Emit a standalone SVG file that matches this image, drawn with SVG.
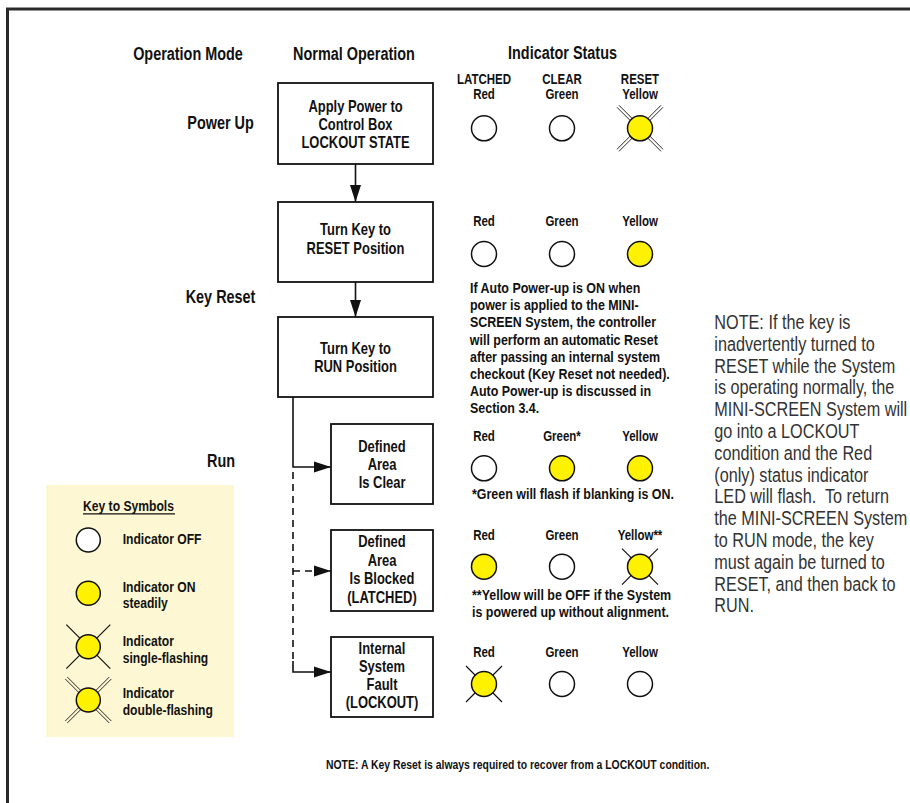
<svg xmlns="http://www.w3.org/2000/svg" width="910" height="803" viewBox="0 0 910 803">
<defs>
<style>
text{font-family:"Liberation Sans",Arial,sans-serif;fill:#111;font-weight:bold;transform-box:fill-box;transform-origin:0% 50%;transform:scaleX(0.82)}
.h{font-size:17.6px}
.m{text-anchor:middle;transform-origin:50% 50%}
.b{font-size:15.8px;text-anchor:middle;transform-origin:50% 50%}
.l{font-size:14px;text-anchor:middle;transform-origin:50% 50%}
.p{font-size:15.2px}
.k{font-size:14.8px}
.n{font-size:19.8px;font-weight:normal;fill:#333}
.f{font-size:12.7px}
.box{fill:#fff;stroke:#111;stroke-width:1.8}
.off{fill:#fff;stroke:#111;stroke-width:1.5}
.on{fill:#FFF200;stroke:#111;stroke-width:1.5}
.ray{stroke:#111;stroke-width:1.2;fill:none}
.ray2{stroke:#111;stroke-width:0.9;fill:none}
.con{stroke:#111;stroke-width:1.6;fill:none}
.dash{stroke-dasharray:7 5}
</style>
<marker id="ah" markerUnits="userSpaceOnUse" markerWidth="17" markerHeight="12" refX="17" refY="6" orient="auto">
<path d="M0,0.5 L17,6 L0,11.5 z" fill="#111"/>
</marker>
<g id="s1"><path class="ray" d="M-18,-18 L18,18 M18,-18 L-18,18"/></g>
<g id="s2"><path class="ray" d="M-22,-22 L22,22 M22,-22 L-22,22"/></g>
<g id="d2"><path class="ray2" d="M-21,-23 L23,21 M-23,-21 L21,23 M21,-23 L-23,21 M23,-21 L-21,23"/></g>
</defs>
<rect width="910" height="803" fill="#fff"/>
<path d="M7.5,803 V9 H910" fill="none" stroke="#2a2a2a" stroke-width="3"/>

<g id="headers">
<text class="h m" x="188" y="60">Operation Mode</text>
<text class="h m" x="354" y="60">Normal Operation</text>
<text class="h m" x="562.5" y="59">Indicator Status</text>
</g>
<g id="modes">
<text class="h m" x="220.5" y="129">Power Up</text>
<text class="h m" x="220.5" y="303">Key Reset</text>
<text class="h m" x="221" y="467.5">Run</text>
</g>

<g id="connectors">
<line class="con" x1="355.5" y1="164" x2="355.5" y2="202" marker-end="url(#ah)"/>
<line class="con" x1="355.5" y1="282" x2="355.5" y2="317" marker-end="url(#ah)"/>
<polyline class="con" points="293,397 293,467 331,467" marker-end="url(#ah)"/>
<line class="con dash" x1="293" y1="472" x2="293" y2="662"/>
<polyline class="con" points="293,661 293,672 331,672" marker-end="url(#ah)"/>
<line class="con dash" x1="293" y1="571" x2="331" y2="571" marker-end="url(#ah)"/>
</g>

<g id="n1"><rect class="box" x="278" y="83" width="155" height="81"/>
<text class="b" x="355.5" y="112.5">Apply Power to</text>
<text class="b" x="355.5" y="130.5">Control Box</text>
<text class="b" x="355.5" y="148.5">LOCKOUT STATE</text></g>
<g id="n2"><rect class="box" x="278" y="202" width="155" height="80"/>
<text class="b" x="355.5" y="235">Turn Key to</text>
<text class="b" x="355.5" y="254">RESET Position</text></g>
<g id="n3"><rect class="box" x="278" y="317" width="155" height="80"/>
<text class="b" x="355.5" y="354">Turn Key to</text>
<text class="b" x="355.5" y="372">RUN Position</text></g>
<g id="n4"><rect class="box" x="331" y="424" width="102" height="80"/>
<text class="b" x="382" y="452">Defined</text>
<text class="b" x="382" y="470">Area</text>
<text class="b" x="382" y="488">Is Clear</text></g>
<g id="n5"><rect class="box" x="331" y="530" width="102" height="81"/>
<text class="b" x="382" y="547.5">Defined</text>
<text class="b" x="382" y="566">Area</text>
<text class="b" x="382" y="584.5">Is Blocked</text>
<text class="b" x="382" y="603">(LATCHED)</text></g>
<g id="n6"><rect class="box" x="331" y="637" width="102" height="80"/>
<text class="b" x="382" y="654">Internal</text>
<text class="b" x="382" y="672">System</text>
<text class="b" x="382" y="690.5">Fault</text>
<text class="b" x="382" y="708">(LOCKOUT)</text></g>

<g id="row1">
<text class="l" x="484" y="84">LATCHED</text><text class="l" x="484" y="99">Red</text>
<text class="l" x="562" y="84">CLEAR</text><text class="l" x="562" y="99">Green</text>
<text class="l" x="640" y="84">RESET</text><text class="l" x="640" y="99">Yellow</text>
<circle class="off" cx="484" cy="128.3" r="12.5"/>
<circle class="off" cx="562" cy="128.3" r="12.5"/>
<use href="#d2" x="640" y="128.3"/>
<circle class="on" cx="640" cy="128.3" r="12.5"/>
</g>
<g id="row2">
<text class="l" x="484" y="225.7">Red</text>
<text class="l" x="562" y="225.7">Green</text>
<text class="l" x="640" y="225.7">Yellow</text>
<circle class="off" cx="484" cy="254" r="12.5"/>
<circle class="off" cx="562" cy="254" r="12.5"/>
<circle class="on" cx="640" cy="254" r="12.5"/>
</g>
<g id="autonote">
<text class="p" x="470" y="293">If Auto Power-up is ON when</text>
<text class="p" x="470" y="310.2">power is applied to the MINI-</text>
<text class="p" x="470" y="327.4">SCREEN System, the controller</text>
<text class="p" x="470" y="344.6">will perform an automatic Reset</text>
<text class="p" x="470" y="361.8">after passing an internal system</text>
<text class="p" x="470" y="379">checkout (Key Reset not needed).</text>
<text class="p" x="470" y="396.2">Auto Power-up is discussed in</text>
<text class="p" x="470" y="413.4">Section 3.4.</text>
</g>
<g id="row3">
<text class="l" x="484" y="440.7">Red</text>
<text class="l" x="562" y="440.7">Green*</text>
<text class="l" x="640" y="440.7">Yellow</text>
<circle class="off" cx="484" cy="468.3" r="12.5"/>
<circle class="on" cx="562" cy="468.3" r="12.5"/>
<circle class="on" cx="640" cy="468.3" r="12.5"/>
<text class="p" x="472" y="499.3">*Green will flash if blanking is ON.</text>
</g>
<g id="row4">
<text class="l" x="484" y="540">Red</text>
<text class="l" x="562" y="540">Green</text>
<text class="l" x="640" y="540">Yellow**</text>
<circle class="on" cx="484" cy="566.7" r="12.5"/>
<circle class="off" cx="562" cy="566.7" r="12.5"/>
<use href="#s1" x="640" y="566.7"/>
<circle class="on" cx="640" cy="566.7" r="12.5"/>
<text class="p" x="472" y="600">**Yellow will be OFF if the System</text>
<text class="p" x="472" y="617.3">is powered up without alignment.</text>
</g>
<g id="row5">
<text class="l" x="484" y="656.7">Red</text>
<text class="l" x="562" y="656.7">Green</text>
<text class="l" x="640" y="656.7">Yellow</text>
<use href="#s1" x="484" y="684"/>
<circle class="on" cx="484" cy="684" r="12.5"/>
<circle class="off" cx="562" cy="684" r="12.5"/>
<circle class="off" cx="640" cy="684" r="12.5"/>
</g>

<g id="legend">
<rect x="46" y="485" width="188" height="252" fill="#FDF8D3"/>
<text class="k" x="83" y="510.7">Key to Symbols</text>
<line x1="83" y1="513.8" x2="175" y2="513.8" stroke="#111" stroke-width="1.2"/>
<circle class="off" cx="88.3" cy="540" r="12"/>
<text class="k" x="122.7" y="544">Indicator OFF</text>
<circle class="on" cx="88.3" cy="593.3" r="12"/>
<text class="k" x="122.7" y="591.7">Indicator ON</text>
<text class="k" x="122.7" y="608.3">steadily</text>
<use href="#s2" x="88.3" y="646.7"/>
<circle class="on" cx="88.3" cy="646.7" r="12"/>
<text class="k" x="122.7" y="645.7">Indicator</text>
<text class="k" x="122.7" y="662.7">single-flashing</text>
<use href="#d2" x="88.3" y="700"/>
<circle class="on" cx="88.3" cy="700" r="12"/>
<text class="k" x="122.7" y="698.3">Indicator</text>
<text class="k" x="122.7" y="715">double-flashing</text>
</g>

<g id="sidenote">
<text class="n" x="714.3" y="329">NOTE: If the key is</text>
<text class="n" x="714.3" y="350.8">inadvertently turned to</text>
<text class="n" x="714.3" y="372.6">RESET while the System</text>
<text class="n" x="714.3" y="394.4">is operating normally, the</text>
<text class="n" x="714.3" y="416.2">MINI-SCREEN System will</text>
<text class="n" x="714.3" y="438">go into a LOCKOUT</text>
<text class="n" x="714.3" y="459.8">condition and the Red</text>
<text class="n" x="714.3" y="481.6">(only) status indicator</text>
<text class="n" x="714.3" y="503.4" xml:space="preserve">LED will flash.  To return</text>
<text class="n" x="714.3" y="525.2">the MINI-SCREEN System</text>
<text class="n" x="714.3" y="547">to RUN mode, the key</text>
<text class="n" x="714.3" y="568.8">must again be turned to</text>
<text class="n" x="714.3" y="590.6">RESET, and then back to</text>
<text class="n" x="714.3" y="612.4">RUN.</text>
</g>
<g id="footnote">
<text class="f" x="326" y="769.3">NOTE: A Key Reset is always required to recover from a LOCKOUT condition.</text>
</g>
</svg>
